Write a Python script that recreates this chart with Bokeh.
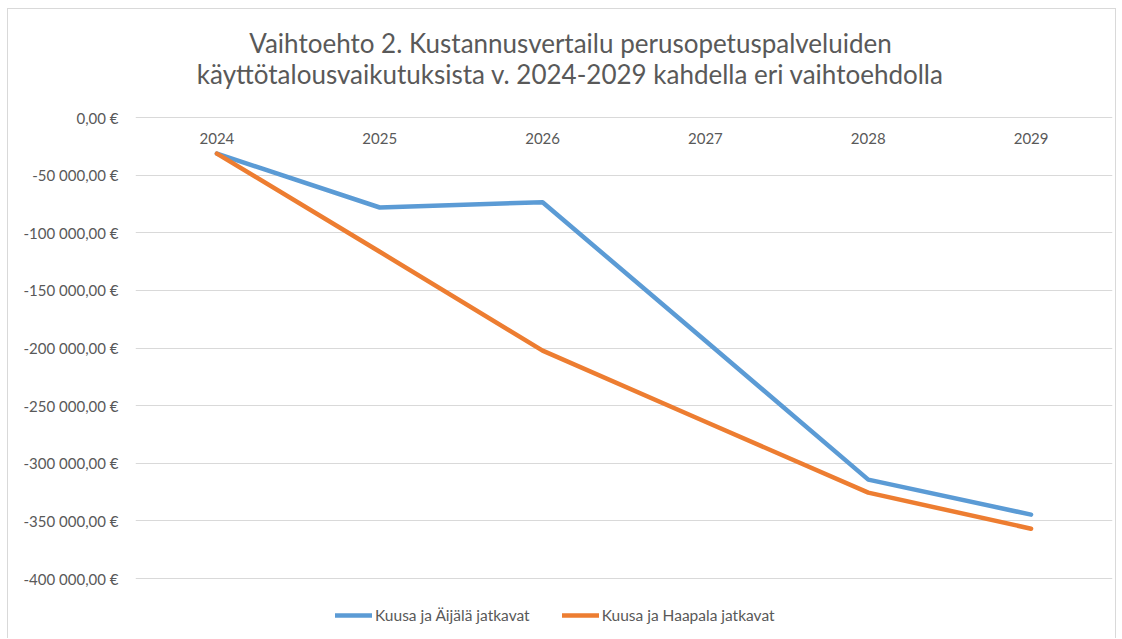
from bokeh.plotting import figure
from bokeh.models import Range1d, Legend, LegendItem, CustomJSTickFormatter, Label
from bokeh.core.properties import value
from bokeh.embed import file_html
from bokeh.resources import INLINE

years = ["2024", "2025", "2026", "2027", "2028", "2029"]
aijala = [-31300, -78100, -73500, -193750, -314200, -344600]
haapala = [-31300, -116500, -202300, -264000, -325500, -356800]
series_names = ["Kuusa ja Äijälä jatkavat", "Kuusa ja Haapala jatkavat"]
title_lines = ["Vaihtoehto 2. Kustannusvertailu perusopetuspalveluiden",
               "käyttötalousvaikutuksista v. 2024-2029 kahdella eri vaihtoehdolla"]
y_ticks = list(range(-400000, 1, 50000))

FONT = "Lato"
TXT = "#595959"
GRID = "#d9d9d9"

# layout (pixels): plot content from y=9 to 639; value 0 at y=117, -400000 at y=578
H = 630
TOP_PX = 117 - 9
BOT_PX = 639 - 578
SPAN_PX = 578 - 117
per_px = 400000 / SPAN_PX
y_end = TOP_PX * per_px
y_start = -400000 - BOT_PX * per_px

p = figure(x_range=years, y_range=Range1d(y_start, y_end), width=1109, height=H,
           output_backend="svg", toolbar_location=None, title=None,
           min_border_left=127, min_border_right=5, min_border_top=0, min_border_bottom=0)
p.x_range.range_padding = 0
p.styles = {"border-left": "1px solid #d9d9d9", "border-top": "1px solid #d9d9d9",
            "border-right": "1px solid #d9d9d9", "margin-top": "8px", "margin-left": "7px"}
p.outline_line_color = None
p.background_fill_color = "white"
p.border_fill_color = "white"

# title lines (screen units: x from frame left, y up from frame bottom)
for line, ypos in zip(title_lines, [H - 33, H - 64]):
    p.add_layout(Label(x=435, y=ypos, x_units="screen", y_units="screen", text=line,
                       text_align="center", text_baseline="middle", text_font=FONT,
                       text_font_size="26px", text_color=TXT))

r1 = p.line(years, aijala, line_color="#5B9BD5", line_width=4.5, line_join="round", line_cap="round")
r2 = p.line(years, haapala, line_color="#ED7D31", line_width=4.5, line_join="round", line_cap="round")

# category labels drawn at the y=0 axis line
p.text(x=years, y=[0] * len(years), text=years, y_offset=21, text_align="center",
       text_baseline="middle", text_font=value(FONT), text_font_size="15px", text_color=TXT)

p.yaxis.ticker = y_ticks
p.yaxis.formatter = CustomJSTickFormatter(code="""
const neg = tick < 0;
const n = Math.abs(tick).toFixed(2);
let [i, d] = n.split('.');
i = i.replace(/\\B(?=(\\d{3})+(?!\\d))/g, ' ');
return (neg ? '-' : '') + i + ',' + d + ' €';
""")
p.yaxis.axis_line_color = None
p.yaxis.major_tick_line_color = None
p.yaxis.minor_tick_line_color = None
p.yaxis.major_tick_out = 0
p.yaxis.major_tick_in = 0
p.yaxis.major_label_text_font = FONT
p.yaxis.major_label_text_font_size = "15px"
p.yaxis.major_label_text_color = TXT
p.yaxis.major_label_standoff = 17

p.xaxis.visible = False

p.xgrid.grid_line_color = None
p.ygrid.grid_line_color = GRID
p.ygrid.grid_line_width = 1

legend = Legend(items=[LegendItem(label=series_names[0], renderers=[r1]),
                       LegendItem(label=series_names[1], renderers=[r2])],
                orientation="horizontal", location=(200, 14),
                label_text_font=FONT, label_text_font_size="15.5px", label_text_color=TXT,
                glyph_width=37, label_standoff=3, spacing=32, padding=4, margin=0,
                border_line_color=None, background_fill_alpha=0)
p.add_layout(legend, "center")

open("out.html", "w").write(file_html(p, INLINE))
